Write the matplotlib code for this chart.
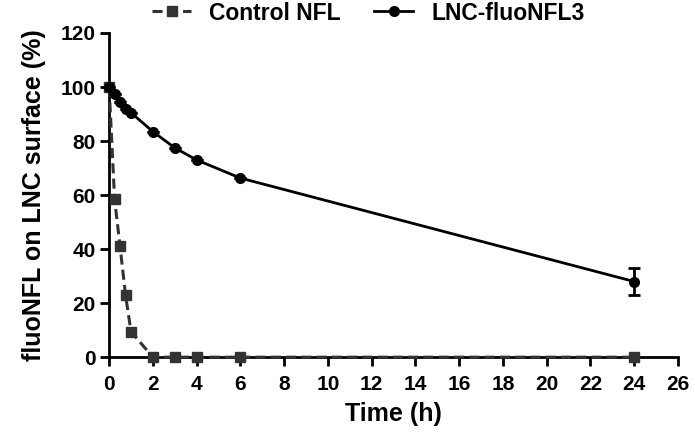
import numpy as np
import matplotlib.pyplot as plt

plt.rcParams['font.family'] = ['Liberation Sans', 'DejaVu Sans']
plt.rcParams['font.weight'] = 'bold'

# temps (h)
t = [0, 0.25, 0.5, 0.75, 1, 2, 3, 4, 6, 24]
control = [100, 58.5, 41, 23, 9.5, 0, 0, 0, 0, 0]
lnc = [100, 97.5, 94.5, 92, 90.5, 83.5, 77.5, 73, 66.3, 28]
lnc_err = [0, 0, 0, 0, 0, 0, 0, 0, 0, 5]

xticks = list(range(0, 27, 2))
yticks = list(range(0, 121, 20))

fig = plt.figure(figsize=(6.95, 4.34), dpi=100)
ax = fig.add_axes([0.157, 0.177, 0.8185, 0.747])

ax.plot(t, control, ls=(0, (3.3, 1.7)), color='#333333', lw=2.2, marker='s', ms=6.5,
        label='Control NFL', clip_on=False, zorder=3)
ax.plot(t, lnc, color='black', lw=2, marker='o', ms=7, label='LNC-fluoNFL3',
        clip_on=False, zorder=4)
ax.errorbar(t, lnc, yerr=lnc_err, fmt='none', ecolor='black',
            capsize=4, capthick=2, elinewidth=2, clip_on=False, zorder=4)

ax.set_xlim(0, 26)
ax.set_ylim(0, 120)
ax.set_xticks(xticks)
ax.set_yticks(yticks)
for s in ['top', 'right']:
    ax.spines[s].set_visible(False)
for s in ['left', 'bottom']:
    ax.spines[s].set_linewidth(2)
ax.tick_params(width=2, length=6.5, labelsize=15)
ax.tick_params(axis='x', pad=6)
ax.tick_params(axis='y', pad=3)
for lab in ax.get_xticklabels() + ax.get_yticklabels():
    lab.set_fontweight('bold')

ax.set_xlabel('Time (h)', fontsize=18, fontweight='bold', labelpad=6)
ax.set_ylabel('fluoNFL on LNC surface (%)', fontsize=18, fontweight='bold', labelpad=11)

fig.legend(loc='center left', bbox_to_anchor=(0.219, 0.97), ncol=2, frameon=False,
           prop={'size': 16.5, 'weight': 'bold'}, handlelength=1.7,
           handletextpad=0.8, columnspacing=1.45, borderpad=0, borderaxespad=0)

fig.savefig('out.png', dpi=100)
